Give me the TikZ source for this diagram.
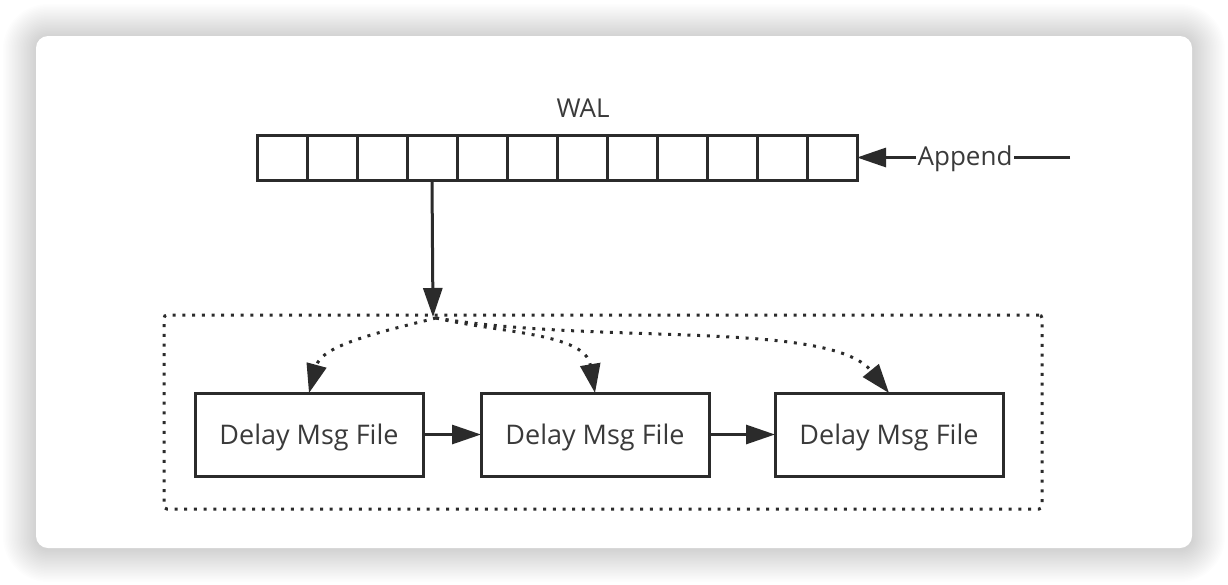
\documentclass[tikz,border=0pt]{standalone}
\usepackage{fontspec}
\setmainfont{Open Sans}
\usetikzlibrary{arrows.meta}
\definecolor{ink}{HTML}{2B2B2B}
\definecolor{txt}{HTML}{3A3A3A}
\begin{document}
\begin{tikzpicture}[x=1pt,y=-1pt,
  lbl/.style={font=\fontsize{26}{30}\selectfont, text=txt, inner sep=1pt},
  cell/.style={draw=ink, line width=3pt, minimum width=50pt, minimum height=45pt, inner sep=0pt, outer sep=0pt},
  filebox/.style={draw=ink, line width=3pt, minimum width=228pt, minimum height=83pt, font=\fontsize{27}{30}\selectfont, text=txt, text depth=0pt, outer sep=0pt},
  arr/.style={draw=ink, line width=3pt, -{Triangle[length=29pt,width=19pt]}},
  plain/.style={draw=ink, line width=3pt},
  dotbox/.style={draw=ink, line width=3pt, dash pattern=on 3pt off 6.7pt, rounded corners=3pt, minimum width=878pt, minimum height=194pt, inner sep=0pt},
  dotarr/.style={draw=ink, line width=3pt, dash pattern=on 3pt off 6.7pt, -{Triangle[length=29pt,width=20pt]}}
]
\useasboundingbox (0,0) rectangle (1228,584);
\fill[white] (0,0) rectangle (1228,584);
% shadow
\foreach \d in {1.5,3,...,33} {
  \fill[black, opacity=0.0065, rounded corners={12pt+\d pt}] ({36-\d},{36-\d+1}) rectangle ({1192+\d},{548+\d+1});
}
\fill[white, rounded corners=12pt] (36,36) rectangle (1192,548);

% WAL strip
\foreach \i in {1,...,12} { \node[cell] (c\i) at ({232+50*\i},157.5) {}; }
\node[lbl] (wal) at (583,108) {WAL};
\node[lbl] (app) at (965,159) {Append};
\coordinate (aend) at (1070,157.5);
\draw[plain] (aend) -- (app.east |- aend);
\draw[arr] (app.west |- aend) -- (c12.east);

% group
\node[dotbox] (grp) at (603,412) {};
\node[filebox] (f1) at (309,434.5) {Delay Msg File};
\node[filebox] (f2) at (595,434.5) {Delay Msg File};
\node[filebox] (f3) at (889,434.5) {Delay Msg File};
\draw[arr] (f1.east) -- (f2.west);
\draw[arr] (f2.east) -- (f3.west);

\coordinate (tip) at (433,317);
\coordinate (hub) at (436,318);
\draw[arr] (c4.south) -- (tip);
\draw[dotarr] (hub) .. controls (380,332) and (322,345) .. (f1.north);
\draw[dotarr] (hub) .. controls (500,333) and (585,333) .. (f2.north);
\draw[dotarr] (hub) .. controls (600,345) and (830,320) .. (f3.north);
\end{tikzpicture}
\end{document}
